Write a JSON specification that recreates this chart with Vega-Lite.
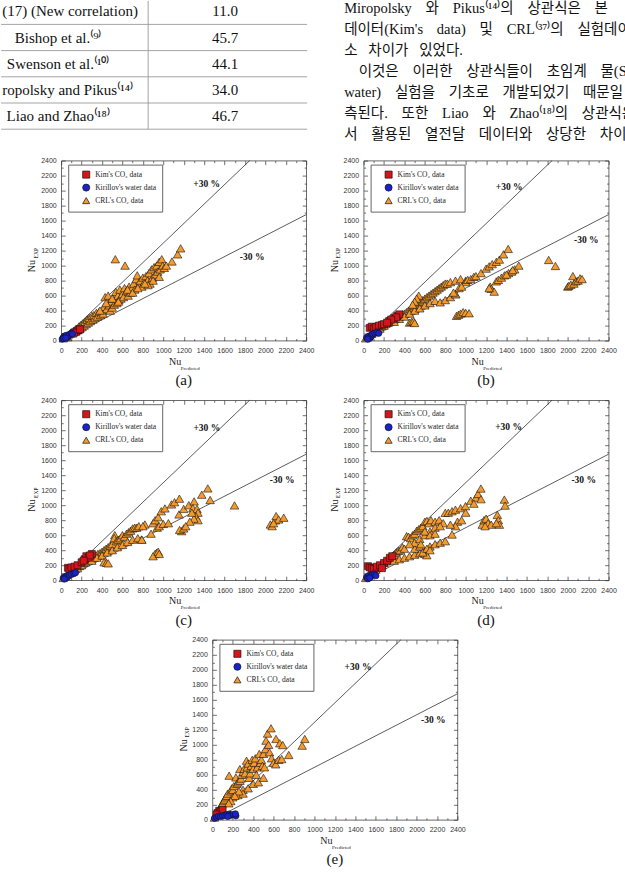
{
"$schema": "https://vega.github.io/schema/vega-lite/v6.json",
"padding": {"left": 0, "top": 0, "right": -34, "bottom": 0},
"center": true,
"spacing": 6.6,
"resolve": {"scale": {"color": "independent", "shape": "independent"}, "legend": {"color": "independent", "shape": "independent"}},
"datasets": {
"tbl": [{"row":1,"name":"(17) (New correlation)","value":"11.0"},{"row":2,"name":"Bishop et al.⁽⁹⁾","value":"45.7"},{"row":3,"name":"Swenson et al.⁽¹⁰⁾","value":"44.1"},{"row":4,"name":"ropolsky and Pikus⁽¹⁴⁾","value":"34.0"},{"row":5,"name":"Liao and Zhao⁽¹⁸⁾","value":"46.7"}],
"txt": [
{"line":1,"t":"Miropolsky\u2002\u2005\u2009와\u2002\u2005\u2009Pikus⁽¹⁴⁾의\u2002\u2005\u2009상관식은\u2002\u2005\u2009본"},
{"line":2,"t":"데이터(Kim's\u2002\u2005\u2009data)\u2002\u2005\u2009및\u2002\u2005\u2009CRL⁽³⁷⁾의\u2002\u2005\u2009실험데이터"},
{"line":3,"t":"소\u2002\u2005차이가\u2002\u2005있었다."},
{"line":4,"t":"\u200b\u00a0\u00a0\u00a0\u00a0이것은\u2002\u2005\u2009이러한\u2002\u2005\u2009상관식들이\u2002\u2005\u2009초임계\u2002\u2005\u2009물(Super"},
{"line":5,"t":"water)\u2002\u2005\u2009실험을\u2002\u2005\u2009기초로\u2002\u2005\u2009개발되었기\u2002\u2005\u2009때문일\u2002\u2005\u2009것으로"},
{"line":6,"t":"측된다.\u2002\u2005\u2009또한\u2002\u2005\u2009Liao\u2002\u2005\u2009와\u2002\u2005\u2009Zhao⁽¹⁸⁾의\u2002\u2005\u2009상관식은\u2002\u2005\u2009본"},
{"line":7,"t":"서\u2002\u2005\u2009활용된\u2002\u2005\u2009열전달\u2002\u2005\u2009데이터와\u2002\u2005\u2009상당한\u2002\u2005\u2009차이를"}],
"txt_r": [{"line":1,"t":"실험"}],
"pm": [{"x":0,"y":0,"x2":1846.15,"y2":2400},{"x":0,"y":0,"x2":2400,"y2":1680}],
"lab_a": [{"t":"+30 %","x":1425,"y":2085},{"t":"-30 %","x":1870,"y":1120}],
"lab_b": [{"t":"+30 %","x":1426,"y":2044},{"t":"-30 %","x":2181,"y":1342}],
"lab_c": [{"t":"+30 %","x":1426,"y":2035},{"t":"-30 %","x":2164,"y":1336}],
"lab_d": [{"t":"+30 %","x":1420,"y":2044},{"t":"-30 %","x":2156,"y":1333}],
"lab_e": [{"t":"+30 %","x":1426,"y":2035},{"t":"-30 %","x":2164,"y":1336}],
"a_crl": [{"x":20,"y":30},{"x":35,"y":50},{"x":50,"y":60},{"x":60,"y":45},{"x":70,"y":80},{"x":85,"y":90},{"x":100,"y":110},{"x":110,"y":95},{"x":120,"y":130},{"x":135,"y":120},{"x":150,"y":160},{"x":160,"y":140},{"x":175,"y":190},{"x":185,"y":170},{"x":195,"y":210},{"x":205,"y":180},{"x":215,"y":230},{"x":225,"y":200},{"x":235,"y":250},{"x":245,"y":220},{"x":255,"y":280},{"x":265,"y":240},{"x":275,"y":300},{"x":285,"y":260},{"x":300,"y":330},{"x":310,"y":280},{"x":320,"y":340},{"x":330,"y":300},{"x":345,"y":370},{"x":355,"y":320},{"x":370,"y":380},{"x":385,"y":340},{"x":400,"y":390},{"x":410,"y":360},{"x":420,"y":450},{"x":430,"y":580},{"x":445,"y":420},{"x":460,"y":600},{"x":470,"y":470},{"x":480,"y":400},{"x":490,"y":520},{"x":500,"y":440},{"x":510,"y":560},{"x":520,"y":480},{"x":530,"y":1085},{"x":535,"y":650},{"x":545,"y":500},{"x":555,"y":600},{"x":565,"y":540},{"x":575,"y":680},{"x":585,"y":560},{"x":600,"y":620},{"x":610,"y":580},{"x":620,"y":700},{"x":625,"y":1000},{"x":640,"y":660},{"x":655,"y":600},{"x":665,"y":720},{"x":680,"y":640},{"x":695,"y":700},{"x":710,"y":760},{"x":720,"y":680},{"x":735,"y":820},{"x":745,"y":870},{"x":760,"y":740},{"x":775,"y":800},{"x":790,"y":720},{"x":800,"y":840},{"x":815,"y":780},{"x":830,"y":860},{"x":845,"y":800},{"x":860,"y":900},{"x":870,"y":760},{"x":885,"y":950},{"x":895,"y":840},{"x":910,"y":980},{"x":920,"y":880},{"x":935,"y":1000},{"x":945,"y":920},{"x":960,"y":1050},{"x":970,"y":950},{"x":985,"y":1085},{"x":995,"y":1000},{"x":1010,"y":970},{"x":1030,"y":1000},{"x":1085,"y":1055},{"x":1140,"y":1150},{"x":1170,"y":1230},{"x":960,"y":850},{"x":900,"y":800},{"x":850,"y":740},{"x":380,"y":400},{"x":440,"y":500},{"x":500,"y":560},{"x":560,"y":520},{"x":650,"y":680},{"x":700,"y":640},{"x":750,"y":700},{"x":820,"y":760},{"x":140,"y":150},{"x":165,"y":150},{"x":180,"y":160}],
"a_kim": [{"x":150,"y":120},{"x":170,"y":140},{"x":125,"y":105},{"x":185,"y":150}],
"a_kir": [{"x":10,"y":20},{"x":20,"y":40},{"x":30,"y":60},{"x":40,"y":50},{"x":50,"y":70},{"x":60,"y":40},{"x":70,"y":60},{"x":80,"y":80},{"x":100,"y":100},{"x":110,"y":90},{"x":25,"y":30},{"x":45,"y":35}],
"b_crl": [{"x":20,"y":30},{"x":40,"y":50},{"x":60,"y":70},{"x":80,"y":90},{"x":100,"y":110},{"x":120,"y":120},{"x":140,"y":150},{"x":160,"y":160},{"x":180,"y":190},{"x":200,"y":200},{"x":220,"y":230},{"x":240,"y":240},{"x":260,"y":260},{"x":280,"y":270},{"x":300,"y":290},{"x":320,"y":300},{"x":340,"y":320},{"x":360,"y":330},{"x":380,"y":350},{"x":400,"y":360},{"x":420,"y":380},{"x":440,"y":400},{"x":460,"y":420},{"x":480,"y":440},{"x":500,"y":460},{"x":520,"y":480},{"x":540,"y":500},{"x":560,"y":520},{"x":580,"y":540},{"x":600,"y":560},{"x":620,"y":580},{"x":640,"y":600},{"x":660,"y":620},{"x":680,"y":640},{"x":700,"y":660},{"x":720,"y":680},{"x":740,"y":700},{"x":760,"y":720},{"x":780,"y":740},{"x":800,"y":760},{"x":820,"y":760},{"x":300,"y":250},{"x":350,"y":290},{"x":400,"y":320},{"x":450,"y":360},{"x":500,"y":400},{"x":550,"y":430},{"x":600,"y":470},{"x":650,"y":500},{"x":700,"y":530},{"x":750,"y":510},{"x":800,"y":540},{"x":850,"y":580},{"x":900,"y":620},{"x":450,"y":240},{"x":470,"y":250},{"x":490,"y":260},{"x":500,"y":235},{"x":540,"y":600},{"x":520,"y":560},{"x":500,"y":520},{"x":480,"y":480},{"x":850,"y":780},{"x":900,"y":800},{"x":950,"y":820},{"x":1000,"y":800},{"x":1000,"y":780},{"x":1020,"y":810},{"x":1050,"y":820},{"x":1080,"y":850},{"x":1100,"y":860},{"x":1150,"y":900},{"x":1200,"y":960},{"x":1230,"y":990},{"x":1260,"y":1020},{"x":1300,"y":1050},{"x":1330,"y":1080},{"x":1370,"y":1150},{"x":1416,"y":1222},{"x":1300,"y":790},{"x":1320,"y":810},{"x":1350,"y":840},{"x":1380,"y":870},{"x":1420,"y":900},{"x":1450,"y":920},{"x":1480,"y":950},{"x":1520,"y":1000},{"x":1400,"y":880},{"x":1460,"y":940},{"x":935,"y":700},{"x":960,"y":720},{"x":902,"y":618},{"x":880,"y":640},{"x":1240,"y":720},{"x":1250,"y":690},{"x":1279,"y":653},{"x":1230,"y":700},{"x":910,"y":330},{"x":930,"y":345},{"x":950,"y":360},{"x":975,"y":380},{"x":1000,"y":370},{"x":1033,"y":365},{"x":1813,"y":1075},{"x":1879,"y":995},{"x":2000,"y":720},{"x":2010,"y":730},{"x":2030,"y":745},{"x":2050,"y":860},{"x":2060,"y":760},{"x":2080,"y":790},{"x":2100,"y":800},{"x":2120,"y":830},{"x":2140,"y":820}],
"b_kim": [{"x":60,"y":170},{"x":80,"y":186},{"x":100,"y":160},{"x":120,"y":180},{"x":150,"y":200},{"x":180,"y":210},{"x":200,"y":220},{"x":250,"y":260},{"x":300,"y":300},{"x":330,"y":330},{"x":350,"y":350},{"x":320,"y":310},{"x":270,"y":280},{"x":230,"y":240}],
"b_kir": [{"x":30,"y":40},{"x":50,"y":60},{"x":60,"y":30},{"x":70,"y":50},{"x":82,"y":75},{"x":90,"y":90},{"x":110,"y":100},{"x":130,"y":110},{"x":148,"y":98},{"x":40,"y":20}],
"c_crl": [{"x":20,"y":30},{"x":40,"y":50},{"x":60,"y":70},{"x":80,"y":90},{"x":100,"y":110},{"x":120,"y":120},{"x":140,"y":150},{"x":160,"y":160},{"x":180,"y":190},{"x":200,"y":200},{"x":220,"y":230},{"x":240,"y":240},{"x":260,"y":270},{"x":280,"y":290},{"x":300,"y":300},{"x":320,"y":310},{"x":340,"y":330},{"x":360,"y":350},{"x":380,"y":360},{"x":400,"y":380},{"x":420,"y":400},{"x":440,"y":420},{"x":460,"y":440},{"x":480,"y":460},{"x":500,"y":480},{"x":525,"y":601},{"x":520,"y":560},{"x":540,"y":520},{"x":560,"y":540},{"x":580,"y":560},{"x":600,"y":600},{"x":620,"y":580},{"x":640,"y":620},{"x":660,"y":640},{"x":680,"y":660},{"x":700,"y":690},{"x":720,"y":700},{"x":740,"y":700},{"x":760,"y":720},{"x":787,"y":543},{"x":820,"y":743},{"x":800,"y":720},{"x":300,"y":260},{"x":350,"y":300},{"x":400,"y":330},{"x":450,"y":370},{"x":500,"y":400},{"x":550,"y":440},{"x":600,"y":470},{"x":650,"y":510},{"x":700,"y":540},{"x":750,"y":560},{"x":790,"y":540},{"x":420,"y":240},{"x":443,"y":231},{"x":460,"y":225},{"x":880,"y":620},{"x":900,"y":760},{"x":920,"y":800},{"x":950,"y":840},{"x":940,"y":700},{"x":960,"y":720},{"x":1000,"y":750},{"x":1050,"y":760},{"x":934,"y":365},{"x":920,"y":350},{"x":900,"y":320},{"x":950,"y":380},{"x":960,"y":350},{"x":980,"y":920},{"x":1016,"y":957},{"x":1080,"y":1010},{"x":1110,"y":1040},{"x":1158,"y":1087},{"x":1154,"y":877},{"x":1200,"y":950},{"x":1250,"y":1000},{"x":1302,"y":1051},{"x":1290,"y":960},{"x":1330,"y":950},{"x":1340,"y":900},{"x":1320,"y":850},{"x":1340,"y":800},{"x":1300,"y":820},{"x":1280,"y":900},{"x":1260,"y":780},{"x":1180,"y":654},{"x":1160,"y":670},{"x":1200,"y":690},{"x":1220,"y":720},{"x":1377,"y":1140},{"x":1436,"y":1224},{"x":1459,"y":1069},{"x":1698,"y":997},{"x":2049,"y":743},{"x":2066,"y":721},{"x":2098,"y":797},{"x":2105,"y":855},{"x":2130,"y":810},{"x":2180,"y":833},{"x":2080,"y":760}],
"c_kim": [{"x":66,"y":165},{"x":80,"y":150},{"x":100,"y":170},{"x":130,"y":180},{"x":160,"y":200},{"x":200,"y":240},{"x":230,"y":280},{"x":246,"y":320},{"x":270,"y":300},{"x":300,"y":350},{"x":280,"y":330},{"x":220,"y":260}],
"c_kir": [{"x":20,"y":30},{"x":35,"y":45},{"x":49,"y":53},{"x":60,"y":40},{"x":80,"y":70},{"x":100,"y":80},{"x":125,"y":89},{"x":140,"y":100},{"x":30,"y":15}],
"d_crl": [{"x":20,"y":30},{"x":40,"y":50},{"x":60,"y":80},{"x":80,"y":100},{"x":100,"y":120},{"x":120,"y":140},{"x":140,"y":170},{"x":160,"y":180},{"x":180,"y":200},{"x":200,"y":230},{"x":220,"y":250},{"x":240,"y":270},{"x":260,"y":300},{"x":280,"y":320},{"x":300,"y":340},{"x":320,"y":370},{"x":340,"y":390},{"x":360,"y":400},{"x":380,"y":440},{"x":400,"y":420},{"x":421,"y":587},{"x":440,"y":580},{"x":460,"y":560},{"x":480,"y":600},{"x":500,"y":620},{"x":520,"y":660},{"x":540,"y":680},{"x":560,"y":700},{"x":580,"y":720},{"x":600,"y":780},{"x":620,"y":790},{"x":640,"y":760},{"x":660,"y":800},{"x":700,"y":780},{"x":740,"y":800},{"x":780,"y":760},{"x":800,"y":898},{"x":830,"y":900},{"x":866,"y":920},{"x":900,"y":940},{"x":950,"y":960},{"x":998,"y":987},{"x":1050,"y":1060},{"x":1100,"y":1100},{"x":1120,"y":1150},{"x":1149,"y":1222},{"x":1080,"y":1020},{"x":1150,"y":1080},{"x":1000,"y":900},{"x":300,"y":260},{"x":350,"y":280},{"x":400,"y":300},{"x":450,"y":320},{"x":500,"y":340},{"x":550,"y":360},{"x":600,"y":380},{"x":650,"y":450},{"x":700,"y":480},{"x":750,"y":500},{"x":800,"y":520},{"x":866,"y":609},{"x":500,"y":420},{"x":550,"y":450},{"x":600,"y":350},{"x":619,"y":333},{"x":580,"y":370},{"x":620,"y":420},{"x":650,"y":400},{"x":500,"y":500},{"x":550,"y":550},{"x":600,"y":600},{"x":650,"y":650},{"x":700,"y":700},{"x":750,"y":720},{"x":600,"y":650},{"x":650,"y":600},{"x":700,"y":620},{"x":560,"y":480},{"x":450,"y":480},{"x":920,"y":780},{"x":960,"y":800},{"x":900,"y":720},{"x":850,"y":740},{"x":1162,"y":740},{"x":1180,"y":800},{"x":1200,"y":820},{"x":1220,"y":760},{"x":1250,"y":740},{"x":1310,"y":870},{"x":1320,"y":800},{"x":1330,"y":740},{"x":1190,"y":720},{"x":1300,"y":760},{"x":1379,"y":1075},{"x":1386,"y":995}],
"d_kim": [{"x":43,"y":187},{"x":60,"y":170},{"x":80,"y":160},{"x":100,"y":150},{"x":130,"y":180},{"x":160,"y":200},{"x":200,"y":230},{"x":230,"y":260},{"x":257,"y":298},{"x":280,"y":320},{"x":180,"y":160}],
"d_kir": [{"x":30,"y":40},{"x":50,"y":60},{"x":70,"y":50},{"x":90,"y":80},{"x":109,"y":76},{"x":120,"y":60},{"x":40,"y":20},{"x":60,"y":30}],
"e_crl": [{"x":20,"y":30},{"x":30,"y":60},{"x":40,"y":80},{"x":50,"y":100},{"x":60,"y":130},{"x":70,"y":150},{"x":80,"y":170},{"x":90,"y":200},{"x":100,"y":220},{"x":110,"y":250},{"x":120,"y":270},{"x":130,"y":300},{"x":140,"y":320},{"x":150,"y":350},{"x":164,"y":588},{"x":180,"y":380},{"x":190,"y":420},{"x":200,"y":400},{"x":210,"y":450},{"x":230,"y":565},{"x":240,"y":480},{"x":250,"y":500},{"x":269,"y":677},{"x":270,"y":520},{"x":280,"y":550},{"x":290,"y":600},{"x":300,"y":640},{"x":310,"y":680},{"x":320,"y":620},{"x":334,"y":788},{"x":340,"y":700},{"x":350,"y":750},{"x":360,"y":560},{"x":370,"y":620},{"x":380,"y":720},{"x":390,"y":800},{"x":400,"y":680},{"x":410,"y":760},{"x":420,"y":820},{"x":430,"y":600},{"x":440,"y":700},{"x":459,"y":877},{"x":470,"y":760},{"x":480,"y":800},{"x":490,"y":720},{"x":500,"y":880},{"x":510,"y":700},{"x":525,"y":1055},{"x":520,"y":943},{"x":540,"y":1150},{"x":550,"y":1000},{"x":574,"y":1220},{"x":560,"y":900},{"x":580,"y":820},{"x":600,"y":760},{"x":620,"y":740},{"x":623,"y":1078},{"x":650,"y":800},{"x":660,"y":1020},{"x":679,"y":810},{"x":689,"y":997},{"x":748,"y":864},{"x":879,"y":989},{"x":905,"y":1078},{"x":200,"y":300},{"x":250,"y":330},{"x":300,"y":400},{"x":350,"y":420},{"x":400,"y":480},{"x":450,"y":500},{"x":500,"y":560},{"x":300,"y":350},{"x":260,"y":380},{"x":220,"y":320},{"x":180,"y":250},{"x":160,"y":220}],
"e_kim": [{"x":66,"y":120},{"x":50,"y":90},{"x":80,"y":110},{"x":100,"y":130},{"x":40,"y":70}],
"e_kir": [{"x":20,"y":20},{"x":40,"y":35},{"x":60,"y":50},{"x":80,"y":45},{"x":98,"y":53},{"x":120,"y":60},{"x":140,"y":70},{"x":164,"y":76},{"x":180,"y":60},{"x":200,"y":70},{"x":230,"y":53},{"x":225,"y":80},{"x":150,"y":45}]
},
"vconcat": [
{"width": 659, "height": 147.4, "view": {"stroke": null},
 "layer": [
  {"data": {"name": "tbl"}, "mark": {"type": "rule", "color": "#9a9a9a", "strokeWidth": 0.9},
   "encoding": {"y": {"field": "row", "type": "ordinal", "bandPosition": 1, "scale": {"type": "band", "domain": [1,2,3,4,5], "range": [-2.8, 128.2], "paddingInner": 0, "paddingOuter": 0}, "axis": null}, "x": {"value": 0}, "x2": {"value": 306}}},
  {"data": {"values": [{}]}, "mark": {"type": "rule", "color": "#9a9a9a", "strokeWidth": 0.9},
   "encoding": {"x": {"value": 147}, "y": {"value": 0}, "y2": {"value": 128.2}}},
  {"data": {"name": "tbl"}, "transform": [{"filter": "datum.row == 2 || datum.row == 3 || datum.row == 5"}],
   "mark": {"type": "text", "font": "Liberation Serif", "fontSize": 15, "align": "center", "baseline": "middle", "color": "#111"},
   "encoding": {"y": {"field": "row", "type": "ordinal", "scale": {"type": "band", "domain": [1,2,3,4,5], "range": [-2.8, 128.2], "paddingInner": 0, "paddingOuter": 0}, "axis": null}, "x": {"value": 57}, "text": {"field": "name"}}},
  {"data": {"name": "tbl"}, "transform": [{"filter": "datum.row == 1 || datum.row == 4"}],
   "mark": {"type": "text", "font": "Liberation Serif", "fontSize": 15, "align": "left", "baseline": "middle", "color": "#111"},
   "encoding": {"y": {"field": "row", "type": "ordinal", "scale": {"type": "band", "domain": [1,2,3,4,5], "range": [-2.8, 128.2], "paddingInner": 0, "paddingOuter": 0}, "axis": null}, "x": {"value": 1}, "text": {"field": "name"}}},
  {"data": {"name": "tbl"},
   "mark": {"type": "text", "font": "Liberation Serif", "fontSize": 15, "align": "center", "baseline": "middle", "color": "#111"},
   "encoding": {"y": {"field": "row", "type": "ordinal", "scale": {"type": "band", "domain": [1,2,3,4,5], "range": [-2.8, 128.2], "paddingInner": 0, "paddingOuter": 0}, "axis": null}, "x": {"value": 224}, "text": {"field": "value"}}},
  {"data": {"name": "txt"},
   "mark": {"type": "text", "font": "Liberation Serif, Noto Sans CJK KR", "fontSize": 14.5, "align": "left", "baseline": "middle", "color": "#111"},
   "encoding": {"y": {"field": "line", "type": "quantitative", "scale": {"domain": [1,7], "range": [7.5,134]}, "axis": null}, "x": {"value": 343}, "text": {"field": "t"}}},
  {"data": {"name": "txt_r"},
   "mark": {"type": "text", "font": "Liberation Serif, Noto Sans CJK KR", "fontSize": 14.5, "align": "right", "baseline": "middle", "color": "#111"},
   "encoding": {"y": {"field": "line", "type": "quantitative", "scale": {"domain": [1,7], "range": [7.5,134]}, "axis": null}, "x": {"value": 659}, "text": {"field": "t"}}}
 ],
 "resolve": {"scale": {"y": "independent"}}},
{"hconcat": [
{"width":245,"height":180,"title":{"text":"(a)"},
"layer":[
{"data":{"name":"pm"},"mark":{"type":"rule","color":"#333","strokeWidth":0.8},
"encoding":{"x":{"field":"x","type":"quantitative","scale":{"domain":[0,2400],"nice":false},"axis":{"orient":"bottom","format":"d","values":[0,200,400,600,800,1000,1200,1400,1600,1800,2000,2200,2400],"tickSize":-4,"labelPadding":10,"title":"Nu","titleFontSize":10,"titleX":113.5,"titleY":20.5,"titleAlign":"center","titleBaseline":"middle"}},
"y":{"field":"y","type":"quantitative","scale":{"domain":[0,2400],"nice":false},"axis":{"orient":"left","format":"d","values":[0,200,400,600,800,1000,1200,1400,1600,1800,2000,2200,2400],"tickSize":-4,"labelPadding":9,"title":"Nu","titleFontSize":10,"titleX":-29.4,"titleY":105,"titleAngle":270,"titleAlign":"center","titleBaseline":"middle"}},
"x2":{"field":"x2"},"y2":{"field":"y2"}}},
{"data":{"name":"a_crl"},"mark":{"type":"point","filled":true,"opacity":1,"size":72,"stroke":"#111","strokeWidth":0.6},
"encoding":{"x":{"field":"x","type":"quantitative","axis":{"orient":"top","values":[0,200,400,600,800,1000,1200,1400,1600,1800,2000,2200,2400],"tickSize":-4,"labels":false,"title":null}},
"y":{"field":"y","type":"quantitative","axis":{"orient":"right","values":[0,200,400,600,800,1000,1200,1400,1600,1800,2000,2200,2400],"tickSize":-4,"labels":false,"title":null}},
"color":{"datum":"CRL's CO₂ data","type":"nominal","scale":{"domain":["Kim's CO₂ data","Kirillov's water data","CRL's CO₂ data"],"range":["#D4161B","#1A22C9","#F59B2E"]},"legend":{"title":null}},
"shape":{"datum":"CRL's CO₂ data","type":"nominal","scale":{"domain":["Kim's CO₂ data","Kirillov's water data","CRL's CO₂ data"],"range":["square","circle","triangle-up"]},"legend":{"title":null}}}},
{"data":{"name":"a_kim"},"mark":{"type":"point","filled":true,"opacity":1,"size":49,"stroke":"#111","strokeWidth":0.6},
"encoding":{"x":{"field":"x","type":"quantitative","axis":{"orient":"bottom","values":[100,300,500,700,900,1100,1300,1500,1700,1900,2100,2300],"tickSize":-2,"labels":false,"title":"Predicted","titleFontSize":5,"titleX":128.5,"titleY":26.5,"titleAlign":"center","titleBaseline":"middle"}},
"y":{"field":"y","type":"quantitative","axis":{"orient":"left","values":[100,300,500,700,900,1100,1300,1500,1700,1900,2100,2300],"tickSize":-2,"labels":false,"title":"EXP","titleFontSize":5.5,"titleX":-26,"titleY":92,"titleAngle":270,"titleAlign":"center","titleBaseline":"middle"}},
"color":{"datum":"Kim's CO₂ data","type":"nominal"},"shape":{"datum":"Kim's CO₂ data","type":"nominal"}}},
{"data":{"name":"a_kir"},"mark":{"type":"point","filled":true,"opacity":1,"size":40,"stroke":"#111","strokeWidth":0.6},
"encoding":{"x":{"field":"x","type":"quantitative","axis":{"orient":"top","values":[100,300,500,700,900,1100,1300,1500,1700,1900,2100,2300],"tickSize":-2,"labels":false,"title":null}},
"y":{"field":"y","type":"quantitative","axis":{"orient":"right","values":[100,300,500,700,900,1100,1300,1500,1700,1900,2100,2300],"tickSize":-2,"labels":false,"title":null}},
"color":{"datum":"Kirillov's water data","type":"nominal"},"shape":{"datum":"Kirillov's water data","type":"nominal"}}},
{"data":{"name":"lab_a"},"mark":{"type":"text","font":"Liberation Serif","fontWeight":"bold","fontSize":9.5,"color":"#111"},
"encoding":{"x":{"field":"x","type":"quantitative","axis":null},"y":{"field":"y","type":"quantitative","axis":null},"text":{"field":"t"}}}
],
"resolve":{"axis":{"x":"independent","y":"independent"}}},
{"width":245,"height":180,"title":{"text":"(b)"},
"layer":[
{"data":{"name":"pm"},"mark":{"type":"rule","color":"#333","strokeWidth":0.8},
"encoding":{"x":{"field":"x","type":"quantitative","scale":{"domain":[0,2400],"nice":false},"axis":{"orient":"bottom","format":"d","values":[0,200,400,600,800,1000,1200,1400,1600,1800,2000,2200,2400],"tickSize":-4,"labelPadding":10,"title":"Nu","titleFontSize":10,"titleX":113.5,"titleY":20.5,"titleAlign":"center","titleBaseline":"middle"}},
"y":{"field":"y","type":"quantitative","scale":{"domain":[0,2400],"nice":false},"axis":{"orient":"left","format":"d","values":[0,200,400,600,800,1000,1200,1400,1600,1800,2000,2200,2400],"tickSize":-4,"labelPadding":9,"title":"Nu","titleFontSize":10,"titleX":-29.4,"titleY":105,"titleAngle":270,"titleAlign":"center","titleBaseline":"middle"}},
"x2":{"field":"x2"},"y2":{"field":"y2"}}},
{"data":{"name":"b_crl"},"mark":{"type":"point","filled":true,"opacity":1,"size":72,"stroke":"#111","strokeWidth":0.6},
"encoding":{"x":{"field":"x","type":"quantitative","axis":{"orient":"top","values":[0,200,400,600,800,1000,1200,1400,1600,1800,2000,2200,2400],"tickSize":-4,"labels":false,"title":null}},
"y":{"field":"y","type":"quantitative","axis":{"orient":"right","values":[0,200,400,600,800,1000,1200,1400,1600,1800,2000,2200,2400],"tickSize":-4,"labels":false,"title":null}},
"color":{"datum":"CRL's CO₂ data","type":"nominal","scale":{"domain":["Kim's CO₂ data","Kirillov's water data","CRL's CO₂ data"],"range":["#D4161B","#1A22C9","#F59B2E"]},"legend":{"title":null}},
"shape":{"datum":"CRL's CO₂ data","type":"nominal","scale":{"domain":["Kim's CO₂ data","Kirillov's water data","CRL's CO₂ data"],"range":["square","circle","triangle-up"]},"legend":{"title":null}}}},
{"data":{"name":"b_kim"},"mark":{"type":"point","filled":true,"opacity":1,"size":49,"stroke":"#111","strokeWidth":0.6},
"encoding":{"x":{"field":"x","type":"quantitative","axis":{"orient":"bottom","values":[100,300,500,700,900,1100,1300,1500,1700,1900,2100,2300],"tickSize":-2,"labels":false,"title":"Predicted","titleFontSize":5,"titleX":128.5,"titleY":26.5,"titleAlign":"center","titleBaseline":"middle"}},
"y":{"field":"y","type":"quantitative","axis":{"orient":"left","values":[100,300,500,700,900,1100,1300,1500,1700,1900,2100,2300],"tickSize":-2,"labels":false,"title":"EXP","titleFontSize":5.5,"titleX":-26,"titleY":92,"titleAngle":270,"titleAlign":"center","titleBaseline":"middle"}},
"color":{"datum":"Kim's CO₂ data","type":"nominal"},"shape":{"datum":"Kim's CO₂ data","type":"nominal"}}},
{"data":{"name":"b_kir"},"mark":{"type":"point","filled":true,"opacity":1,"size":40,"stroke":"#111","strokeWidth":0.6},
"encoding":{"x":{"field":"x","type":"quantitative","axis":{"orient":"top","values":[100,300,500,700,900,1100,1300,1500,1700,1900,2100,2300],"tickSize":-2,"labels":false,"title":null}},
"y":{"field":"y","type":"quantitative","axis":{"orient":"right","values":[100,300,500,700,900,1100,1300,1500,1700,1900,2100,2300],"tickSize":-2,"labels":false,"title":null}},
"color":{"datum":"Kirillov's water data","type":"nominal"},"shape":{"datum":"Kirillov's water data","type":"nominal"}}},
{"data":{"name":"lab_b"},"mark":{"type":"text","font":"Liberation Serif","fontWeight":"bold","fontSize":9.5,"color":"#111"},
"encoding":{"x":{"field":"x","type":"quantitative","axis":null},"y":{"field":"y","type":"quantitative","axis":null},"text":{"field":"t"}}}
],
"resolve":{"axis":{"x":"independent","y":"independent"}}}
], "spacing": 13.4, "resolve": {"scale": {"color": "independent", "shape": "independent"}, "legend": {"color": "independent", "shape": "independent"}}},
{"hconcat": [
{"width":245,"height":180,"title":{"text":"(c)"},
"layer":[
{"data":{"name":"pm"},"mark":{"type":"rule","color":"#333","strokeWidth":0.8},
"encoding":{"x":{"field":"x","type":"quantitative","scale":{"domain":[0,2400],"nice":false},"axis":{"orient":"bottom","format":"d","values":[0,200,400,600,800,1000,1200,1400,1600,1800,2000,2200,2400],"tickSize":-4,"labelPadding":10,"title":"Nu","titleFontSize":10,"titleX":113.5,"titleY":20.5,"titleAlign":"center","titleBaseline":"middle"}},
"y":{"field":"y","type":"quantitative","scale":{"domain":[0,2400],"nice":false},"axis":{"orient":"left","format":"d","values":[0,200,400,600,800,1000,1200,1400,1600,1800,2000,2200,2400],"tickSize":-4,"labelPadding":9,"title":"Nu","titleFontSize":10,"titleX":-29.4,"titleY":105,"titleAngle":270,"titleAlign":"center","titleBaseline":"middle"}},
"x2":{"field":"x2"},"y2":{"field":"y2"}}},
{"data":{"name":"c_crl"},"mark":{"type":"point","filled":true,"opacity":1,"size":72,"stroke":"#111","strokeWidth":0.6},
"encoding":{"x":{"field":"x","type":"quantitative","axis":{"orient":"top","values":[0,200,400,600,800,1000,1200,1400,1600,1800,2000,2200,2400],"tickSize":-4,"labels":false,"title":null}},
"y":{"field":"y","type":"quantitative","axis":{"orient":"right","values":[0,200,400,600,800,1000,1200,1400,1600,1800,2000,2200,2400],"tickSize":-4,"labels":false,"title":null}},
"color":{"datum":"CRL's CO₂ data","type":"nominal","scale":{"domain":["Kim's CO₂ data","Kirillov's water data","CRL's CO₂ data"],"range":["#D4161B","#1A22C9","#F59B2E"]},"legend":{"title":null}},
"shape":{"datum":"CRL's CO₂ data","type":"nominal","scale":{"domain":["Kim's CO₂ data","Kirillov's water data","CRL's CO₂ data"],"range":["square","circle","triangle-up"]},"legend":{"title":null}}}},
{"data":{"name":"c_kim"},"mark":{"type":"point","filled":true,"opacity":1,"size":49,"stroke":"#111","strokeWidth":0.6},
"encoding":{"x":{"field":"x","type":"quantitative","axis":{"orient":"bottom","values":[100,300,500,700,900,1100,1300,1500,1700,1900,2100,2300],"tickSize":-2,"labels":false,"title":"Predicted","titleFontSize":5,"titleX":128.5,"titleY":26.5,"titleAlign":"center","titleBaseline":"middle"}},
"y":{"field":"y","type":"quantitative","axis":{"orient":"left","values":[100,300,500,700,900,1100,1300,1500,1700,1900,2100,2300],"tickSize":-2,"labels":false,"title":"EXP","titleFontSize":5.5,"titleX":-26,"titleY":92,"titleAngle":270,"titleAlign":"center","titleBaseline":"middle"}},
"color":{"datum":"Kim's CO₂ data","type":"nominal"},"shape":{"datum":"Kim's CO₂ data","type":"nominal"}}},
{"data":{"name":"c_kir"},"mark":{"type":"point","filled":true,"opacity":1,"size":40,"stroke":"#111","strokeWidth":0.6},
"encoding":{"x":{"field":"x","type":"quantitative","axis":{"orient":"top","values":[100,300,500,700,900,1100,1300,1500,1700,1900,2100,2300],"tickSize":-2,"labels":false,"title":null}},
"y":{"field":"y","type":"quantitative","axis":{"orient":"right","values":[100,300,500,700,900,1100,1300,1500,1700,1900,2100,2300],"tickSize":-2,"labels":false,"title":null}},
"color":{"datum":"Kirillov's water data","type":"nominal"},"shape":{"datum":"Kirillov's water data","type":"nominal"}}},
{"data":{"name":"lab_c"},"mark":{"type":"text","font":"Liberation Serif","fontWeight":"bold","fontSize":9.5,"color":"#111"},
"encoding":{"x":{"field":"x","type":"quantitative","axis":null},"y":{"field":"y","type":"quantitative","axis":null},"text":{"field":"t"}}}
],
"resolve":{"axis":{"x":"independent","y":"independent"}}},
{"width":245,"height":180,"title":{"text":"(d)"},
"layer":[
{"data":{"name":"pm"},"mark":{"type":"rule","color":"#333","strokeWidth":0.8},
"encoding":{"x":{"field":"x","type":"quantitative","scale":{"domain":[0,2400],"nice":false},"axis":{"orient":"bottom","format":"d","values":[0,200,400,600,800,1000,1200,1400,1600,1800,2000,2200,2400],"tickSize":-4,"labelPadding":10,"title":"Nu","titleFontSize":10,"titleX":113.5,"titleY":20.5,"titleAlign":"center","titleBaseline":"middle"}},
"y":{"field":"y","type":"quantitative","scale":{"domain":[0,2400],"nice":false},"axis":{"orient":"left","format":"d","values":[0,200,400,600,800,1000,1200,1400,1600,1800,2000,2200,2400],"tickSize":-4,"labelPadding":9,"title":"Nu","titleFontSize":10,"titleX":-29.4,"titleY":105,"titleAngle":270,"titleAlign":"center","titleBaseline":"middle"}},
"x2":{"field":"x2"},"y2":{"field":"y2"}}},
{"data":{"name":"d_crl"},"mark":{"type":"point","filled":true,"opacity":1,"size":72,"stroke":"#111","strokeWidth":0.6},
"encoding":{"x":{"field":"x","type":"quantitative","axis":{"orient":"top","values":[0,200,400,600,800,1000,1200,1400,1600,1800,2000,2200,2400],"tickSize":-4,"labels":false,"title":null}},
"y":{"field":"y","type":"quantitative","axis":{"orient":"right","values":[0,200,400,600,800,1000,1200,1400,1600,1800,2000,2200,2400],"tickSize":-4,"labels":false,"title":null}},
"color":{"datum":"CRL's CO₂ data","type":"nominal","scale":{"domain":["Kim's CO₂ data","Kirillov's water data","CRL's CO₂ data"],"range":["#D4161B","#1A22C9","#F59B2E"]},"legend":{"title":null}},
"shape":{"datum":"CRL's CO₂ data","type":"nominal","scale":{"domain":["Kim's CO₂ data","Kirillov's water data","CRL's CO₂ data"],"range":["square","circle","triangle-up"]},"legend":{"title":null}}}},
{"data":{"name":"d_kim"},"mark":{"type":"point","filled":true,"opacity":1,"size":49,"stroke":"#111","strokeWidth":0.6},
"encoding":{"x":{"field":"x","type":"quantitative","axis":{"orient":"bottom","values":[100,300,500,700,900,1100,1300,1500,1700,1900,2100,2300],"tickSize":-2,"labels":false,"title":"Predicted","titleFontSize":5,"titleX":128.5,"titleY":26.5,"titleAlign":"center","titleBaseline":"middle"}},
"y":{"field":"y","type":"quantitative","axis":{"orient":"left","values":[100,300,500,700,900,1100,1300,1500,1700,1900,2100,2300],"tickSize":-2,"labels":false,"title":"EXP","titleFontSize":5.5,"titleX":-26,"titleY":92,"titleAngle":270,"titleAlign":"center","titleBaseline":"middle"}},
"color":{"datum":"Kim's CO₂ data","type":"nominal"},"shape":{"datum":"Kim's CO₂ data","type":"nominal"}}},
{"data":{"name":"d_kir"},"mark":{"type":"point","filled":true,"opacity":1,"size":40,"stroke":"#111","strokeWidth":0.6},
"encoding":{"x":{"field":"x","type":"quantitative","axis":{"orient":"top","values":[100,300,500,700,900,1100,1300,1500,1700,1900,2100,2300],"tickSize":-2,"labels":false,"title":null}},
"y":{"field":"y","type":"quantitative","axis":{"orient":"right","values":[100,300,500,700,900,1100,1300,1500,1700,1900,2100,2300],"tickSize":-2,"labels":false,"title":null}},
"color":{"datum":"Kirillov's water data","type":"nominal"},"shape":{"datum":"Kirillov's water data","type":"nominal"}}},
{"data":{"name":"lab_d"},"mark":{"type":"text","font":"Liberation Serif","fontWeight":"bold","fontSize":9.5,"color":"#111"},
"encoding":{"x":{"field":"x","type":"quantitative","axis":null},"y":{"field":"y","type":"quantitative","axis":null},"text":{"field":"t"}}}
],
"resolve":{"axis":{"x":"independent","y":"independent"}}}
], "spacing": 13.4, "resolve": {"scale": {"color": "independent", "shape": "independent"}, "legend": {"color": "independent", "shape": "independent"}}},
{"width":245,"height":180,"title":{"text":"(e)"},
"layer":[
{"data":{"name":"pm"},"mark":{"type":"rule","color":"#333","strokeWidth":0.8},
"encoding":{"x":{"field":"x","type":"quantitative","scale":{"domain":[0,2400],"nice":false},"axis":{"orient":"bottom","format":"d","values":[0,200,400,600,800,1000,1200,1400,1600,1800,2000,2200,2400],"tickSize":-4,"labelPadding":10,"title":"Nu","titleFontSize":10,"titleX":113.5,"titleY":20.5,"titleAlign":"center","titleBaseline":"middle"}},
"y":{"field":"y","type":"quantitative","scale":{"domain":[0,2400],"nice":false},"axis":{"orient":"left","format":"d","values":[0,200,400,600,800,1000,1200,1400,1600,1800,2000,2200,2400],"tickSize":-4,"labelPadding":9,"title":"Nu","titleFontSize":10,"titleX":-29.4,"titleY":105,"titleAngle":270,"titleAlign":"center","titleBaseline":"middle"}},
"x2":{"field":"x2"},"y2":{"field":"y2"}}},
{"data":{"name":"e_crl"},"mark":{"type":"point","filled":true,"opacity":1,"size":72,"stroke":"#111","strokeWidth":0.6},
"encoding":{"x":{"field":"x","type":"quantitative","axis":{"orient":"top","values":[0,200,400,600,800,1000,1200,1400,1600,1800,2000,2200,2400],"tickSize":-4,"labels":false,"title":null}},
"y":{"field":"y","type":"quantitative","axis":{"orient":"right","values":[0,200,400,600,800,1000,1200,1400,1600,1800,2000,2200,2400],"tickSize":-4,"labels":false,"title":null}},
"color":{"datum":"CRL's CO₂ data","type":"nominal","scale":{"domain":["Kim's CO₂ data","Kirillov's water data","CRL's CO₂ data"],"range":["#D4161B","#1A22C9","#F59B2E"]},"legend":{"title":null}},
"shape":{"datum":"CRL's CO₂ data","type":"nominal","scale":{"domain":["Kim's CO₂ data","Kirillov's water data","CRL's CO₂ data"],"range":["square","circle","triangle-up"]},"legend":{"title":null}}}},
{"data":{"name":"e_kim"},"mark":{"type":"point","filled":true,"opacity":1,"size":49,"stroke":"#111","strokeWidth":0.6},
"encoding":{"x":{"field":"x","type":"quantitative","axis":{"orient":"bottom","values":[100,300,500,700,900,1100,1300,1500,1700,1900,2100,2300],"tickSize":-2,"labels":false,"title":"Predicted","titleFontSize":5,"titleX":128.5,"titleY":26.5,"titleAlign":"center","titleBaseline":"middle"}},
"y":{"field":"y","type":"quantitative","axis":{"orient":"left","values":[100,300,500,700,900,1100,1300,1500,1700,1900,2100,2300],"tickSize":-2,"labels":false,"title":"EXP","titleFontSize":5.5,"titleX":-26,"titleY":92,"titleAngle":270,"titleAlign":"center","titleBaseline":"middle"}},
"color":{"datum":"Kim's CO₂ data","type":"nominal"},"shape":{"datum":"Kim's CO₂ data","type":"nominal"}}},
{"data":{"name":"e_kir"},"mark":{"type":"point","filled":true,"opacity":1,"size":40,"stroke":"#111","strokeWidth":0.6},
"encoding":{"x":{"field":"x","type":"quantitative","axis":{"orient":"top","values":[100,300,500,700,900,1100,1300,1500,1700,1900,2100,2300],"tickSize":-2,"labels":false,"title":null}},
"y":{"field":"y","type":"quantitative","axis":{"orient":"right","values":[100,300,500,700,900,1100,1300,1500,1700,1900,2100,2300],"tickSize":-2,"labels":false,"title":null}},
"color":{"datum":"Kirillov's water data","type":"nominal"},"shape":{"datum":"Kirillov's water data","type":"nominal"}}},
{"data":{"name":"lab_e"},"mark":{"type":"text","font":"Liberation Serif","fontWeight":"bold","fontSize":9.5,"color":"#111"},
"encoding":{"x":{"field":"x","type":"quantitative","axis":null},"y":{"field":"y","type":"quantitative","axis":null},"text":{"field":"t"}}}
],
"resolve":{"axis":{"x":"independent","y":"independent"}}}
],
"config": {
"view": {"stroke": "#444", "strokeWidth": 0.8},
"axis": {"domain": false, "grid": false, "tickColor": "#333", "tickWidth": 0.7, "labelFont": "Liberation Sans", "labelFontSize": 7, "labelColor": "#333", "labelFlush": false, "labelOverlap": false, "titleFont": "Liberation Serif", "titleFontWeight": "normal", "titleColor": "#222"},
"legend": {"orient": "none", "legendX": 7, "legendY": 4, "padding": 6, "symbolOffset": 8, "strokeColor": "#666", "fillColor": "white", "labelFont": "Liberation Serif", "labelFontSize": 7.5, "labelColor": "#222", "symbolSize": 50, "symbolStrokeColor": "#111", "symbolStrokeWidth": 0.7, "rowPadding": 3, "labelOffset": 5},
"title": {"font": "Liberation Serif", "fontSize": 15, "fontWeight": "normal", "color": "#111", "orient": "bottom", "offset": 3},
"text": {"font": "Liberation Serif"}
}
}
